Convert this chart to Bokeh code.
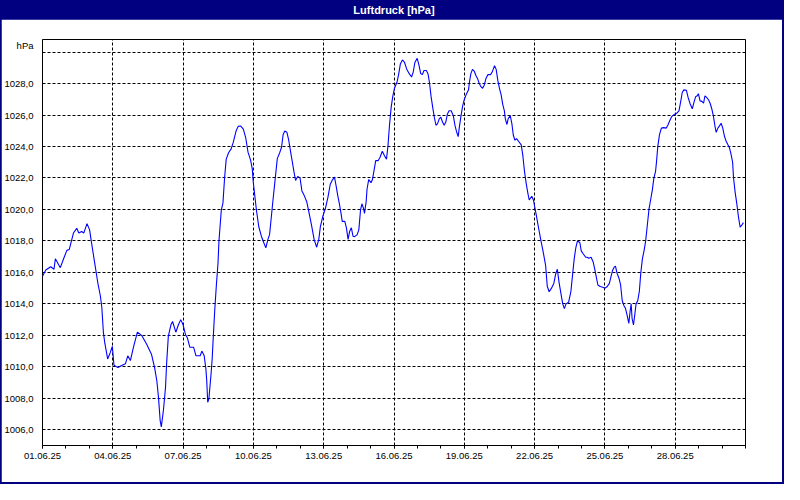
from datetime import datetime, timedelta

from bokeh.plotting import figure
from bokeh.models import Range1d, FixedTicker, DatetimeTickFormatter, Label
from bokeh.layouts import column
from bokeh.embed import file_html
from bokeh.resources import INLINE

# ---------------- data ----------------
TITLE = "Luftdruck [hPa]"
Y_UNIT = "hPa"
START = datetime(2025, 6, 1)
END = datetime(2025, 7, 1)

# time of each reading, in days since 01.06.25 00:00
day_offset = [
    0.00, 0.14, 0.35, 0.49, 0.55, 0.76, 0.90, 1.04, 1.14, 1.32, 1.46, 1.55, 1.67, 1.76, 1.90,
    2.01, 2.08, 2.22, 2.36, 2.47, 2.53, 2.60, 2.66, 2.78, 2.89, 2.98, 3.05, 3.22, 3.40, 3.54,
    3.64, 3.75, 3.89, 4.05, 4.23, 4.44, 4.65, 4.79, 4.88, 4.95, 5.02, 5.07, 5.16, 5.25, 5.30,
    5.37, 5.48, 5.55, 5.69, 5.80, 5.90, 6.00, 6.10, 6.18, 6.29, 6.45, 6.55, 6.73, 6.80, 6.90,
    6.97, 7.01, 7.05, 7.10, 7.19, 7.24, 7.29, 7.35, 7.42, 7.49, 7.53, 7.63, 7.70, 7.77, 7.84,
    7.94, 8.05, 8.14, 8.26, 8.35, 8.46, 8.57, 8.67, 8.77, 8.88, 8.95, 8.99, 9.05, 9.13, 9.23,
    9.34, 9.44, 9.53, 9.62, 9.69, 9.75, 9.82, 9.92, 10.02, 10.13, 10.20, 10.27, 10.34, 10.43,
    10.50, 10.59, 10.66, 10.73, 10.80, 10.89, 10.99, 11.07, 11.17, 11.28, 11.38, 11.49, 11.59,
    11.70, 11.79, 11.86, 11.96, 12.07, 12.18, 12.28, 12.38, 12.46, 12.53, 12.60, 12.67, 12.74,
    12.79, 12.90, 12.97, 13.04, 13.11, 13.18, 13.25, 13.32, 13.43, 13.50, 13.57, 13.63, 13.70,
    13.74, 13.81, 13.85, 13.92, 14.02, 14.08, 14.15, 14.22, 14.32, 14.40, 14.50, 14.60, 14.68,
    14.74, 14.81, 14.88, 14.95, 15.02, 15.13, 15.20, 15.27, 15.36, 15.45, 15.54, 15.65, 15.75,
    15.82, 15.89, 15.99, 16.07, 16.14, 16.21, 16.28, 16.38, 16.45, 16.51, 16.58, 16.65, 16.72,
    16.79, 16.86, 16.93, 17.00, 17.07, 17.14, 17.21, 17.28, 17.35, 17.44, 17.53, 17.60, 17.67,
    17.74, 17.79, 17.86, 17.93, 18.00, 18.08, 18.18, 18.22, 18.28, 18.35, 18.43, 18.50, 18.57,
    18.64, 18.71, 18.78, 18.85, 18.92, 19.01, 19.12, 19.19, 19.29, 19.36, 19.43, 19.50, 19.57,
    19.64, 19.71, 19.75, 19.82, 19.87, 19.96, 20.03, 20.09, 20.16, 20.23, 20.33, 20.43, 20.50,
    20.57, 20.64, 20.71, 20.77, 20.88, 20.95, 21.07, 21.16, 21.26, 21.37, 21.47, 21.54, 21.62,
    21.72, 21.82, 21.90, 21.97, 22.04, 22.13, 22.20, 22.27, 22.34, 22.45, 22.55, 22.62, 22.69,
    22.76, 22.83, 22.93, 22.99, 23.08, 23.18, 23.24, 23.31, 23.41, 23.50, 23.56, 23.63, 23.70,
    23.80, 23.91, 24.01, 24.10, 24.19, 24.26, 24.33, 24.40, 24.45, 24.52, 24.60, 24.67, 24.74,
    24.81, 24.88, 24.95, 25.02, 25.08, 25.12, 25.16, 25.22, 25.28, 25.33, 25.40, 25.47, 25.53,
    25.60, 25.67, 25.74, 25.81, 25.88, 25.95, 26.02, 26.09, 26.16, 26.20, 26.26, 26.33, 26.41,
    26.51, 26.62, 26.69, 26.78, 26.85, 26.95, 27.06, 27.16, 27.24, 27.30, 27.37, 27.48, 27.55,
    27.64, 27.73, 27.80, 27.87, 27.94, 27.99, 28.06, 28.14, 28.21, 28.27, 28.34, 28.42, 28.49,
    28.56, 28.63, 28.70, 28.75, 28.82, 28.89, 28.96, 29.03, 29.10, 29.17, 29.24, 29.31, 29.38,
    29.45, 29.49, 29.56, 29.63, 29.70, 29.77, 29.84, 29.91,
]

pressure_hpa = [
    1015.75, 1016.15, 1016.36, 1016.20, 1016.87, 1016.30, 1016.87, 1017.40, 1017.45, 1018.50, 1018.80, 1018.50, 1018.60, 1018.50, 1019.10,
    1018.70, 1018.00, 1016.67, 1015.34, 1014.50, 1013.80, 1012.16, 1011.50, 1010.50, 1010.90, 1011.30, 1010.10, 1009.95, 1010.10, 1010.20,
    1010.70, 1010.40, 1011.30, 1012.20, 1012.00, 1011.45, 1010.80, 1009.90, 1009.10, 1008.06, 1006.60, 1006.18, 1007.24, 1008.70, 1010.30,
    1011.95, 1012.67, 1012.88, 1012.20, 1012.67, 1013.00, 1012.67, 1012.06, 1011.85, 1011.24, 1011.24, 1010.70, 1010.70, 1011.00, 1010.70,
    1009.90, 1009.10, 1007.75, 1007.96, 1009.50, 1010.50, 1011.95, 1013.60, 1015.20, 1016.60, 1018.00, 1019.95, 1020.40, 1022.00, 1023.20,
    1023.60, 1023.85, 1024.26, 1024.98, 1025.28, 1025.30, 1025.10, 1024.57, 1023.64, 1023.13, 1022.60, 1021.80, 1021.00, 1019.95, 1018.90,
    1018.30, 1017.90, 1017.56, 1018.10, 1018.40, 1019.30, 1020.36, 1021.80, 1023.23, 1023.64, 1023.95, 1024.77, 1024.98, 1024.90,
    1024.46, 1023.64, 1023.03, 1022.40, 1021.84, 1022.10, 1022.00, 1021.18, 1020.88, 1020.47, 1019.75, 1018.93, 1018.10,
    1017.60, 1018.10, 1018.93, 1019.55, 1020.06, 1020.77, 1021.60, 1021.90, 1022.05, 1021.50, 1020.88, 1020.36, 1019.75,
    1019.24, 1019.24, 1018.83, 1018.10, 1018.62, 1018.83, 1018.30, 1018.27, 1018.40, 1018.72, 1019.95, 1020.36, 1020.06,
    1019.75, 1020.47, 1021.30, 1021.90, 1021.70, 1021.90, 1022.50, 1023.10, 1023.10, 1023.30, 1023.70, 1023.40, 1023.20,
    1024.00, 1025.40, 1026.50, 1027.20, 1027.70, 1028.10, 1028.60, 1029.24, 1029.50, 1029.34, 1028.93, 1028.63, 1028.42,
    1028.73, 1029.34, 1029.60, 1029.14, 1028.63, 1028.57, 1028.83, 1028.83, 1028.63, 1028.10, 1027.20, 1026.50, 1025.86,
    1025.35, 1025.45, 1025.76, 1025.86, 1025.55, 1025.35, 1025.55, 1026.07, 1026.27, 1026.27, 1025.96, 1025.35, 1024.94,
    1024.63, 1025.25, 1025.96, 1026.58, 1026.99, 1027.30, 1027.60, 1028.10, 1028.63, 1028.90, 1028.77, 1028.50, 1028.30,
    1028.00, 1027.80, 1027.70, 1027.90, 1028.30, 1028.57, 1028.57, 1028.73, 1029.14, 1028.90, 1028.20, 1027.70, 1027.30,
    1026.68, 1026.27, 1025.76, 1025.40, 1025.76, 1025.96, 1025.45, 1024.73, 1024.40, 1024.50, 1024.30, 1024.10, 1023.40,
    1022.40, 1021.66, 1021.05, 1020.60, 1020.84, 1020.60, 1019.65, 1018.90, 1018.10, 1017.27, 1016.45, 1015.12, 1014.77,
    1015.00, 1015.30, 1015.90, 1016.20, 1015.40, 1014.60, 1014.00, 1013.70, 1014.00, 1014.10, 1014.80, 1015.84, 1016.86,
    1017.58, 1018.00, 1017.90, 1017.37, 1017.17, 1016.96, 1016.96, 1016.90, 1016.96, 1016.66, 1016.25, 1015.73, 1015.20,
    1015.10, 1015.06, 1015.00, 1015.10, 1015.30, 1015.73, 1016.14, 1016.35, 1016.40, 1015.94, 1015.63, 1015.20, 1014.20,
    1013.90, 1013.70, 1013.27, 1012.76, 1013.58, 1014.00, 1013.07, 1012.66, 1013.37, 1014.00, 1014.20, 1014.80, 1015.94,
    1016.86, 1017.37, 1018.00, 1019.00, 1020.00, 1020.60, 1021.20, 1021.99, 1022.40, 1023.00, 1024.04, 1024.76, 1025.17,
    1025.20, 1025.17, 1025.37, 1025.68, 1025.90, 1026.03, 1026.10, 1026.26, 1026.90, 1027.43, 1027.60, 1027.57, 1027.12,
    1026.70, 1026.40, 1026.80, 1027.16, 1027.22, 1027.36, 1026.90, 1026.87, 1026.75, 1027.22, 1027.12, 1026.97, 1026.75,
    1026.40, 1025.93, 1025.27, 1024.90, 1025.17, 1025.31, 1025.48, 1025.17, 1024.66, 1024.35, 1024.14, 1023.94, 1023.53,
    1023.00, 1022.00, 1021.07, 1020.35, 1019.53, 1018.87, 1019.00, 1019.16,
]

x_tick_labels = ["01.06.25", "04.06.25", "07.06.25", "10.06.25", "13.06.25",
                 "16.06.25", "19.06.25", "22.06.25", "25.06.25", "28.06.25"]
y_ticks = [1006, 1008, 1010, 1012, 1014, 1016, 1018, 1020, 1022, 1024, 1026, 1028, 1030]
y_tick_labels = ["1006,0", "1008,0", "1010,0", "1012,0", "1014,0", "1016,0", "1018,0",
                 "1020,0", "1022,0", "1024,0", "1026,0", "1028,0", ""]
Y_MIN, Y_MAX = 1005.0, 1030.8
UNIT_POS = 1030.45   # where the unit text sits on the y axis (just under the top edge)

# ---------------- helpers ----------------
EPOCH = datetime(1970, 1, 1)


def to_ms(dt):
    return (dt - EPOCH).total_seconds() * 1000.0


times = [START + timedelta(days=d) for d in day_offset]
x_tick_dates = [datetime.strptime(s, "%d.%m.%y") for s in x_tick_labels]
x_major = [to_ms(d) for d in x_tick_dates]
n_days = (END - START).days
x_minor = [to_ms(START + timedelta(days=i)) for i in range(n_days + 1)]

NAVY = "#000080"
FONT = "Liberation Sans"

# ---------------- title bar ----------------
title_fig = figure(width=781, height=19, x_range=Range1d(0, 1), y_range=Range1d(0, 1),
                   toolbar_location=None, output_backend="svg",
                   x_axis_location=None, y_axis_location=None,
                   min_border=0, background_fill_color=NAVY, border_fill_color=NAVY,
                   outline_line_color=None)
title_fig.grid.visible = False
title_fig.add_layout(Label(x=0.5, y=0.5, text=TITLE, text_align="center",
                           text_baseline="middle", text_color="white",
                           text_font=FONT, text_font_style="bold",
                           text_font_size="11px"))

# ---------------- main chart ----------------
p = figure(width=781, height=463, x_axis_type="datetime",
           x_range=Range1d(START, END), y_range=Range1d(Y_MIN, Y_MAX),
           toolbar_location=None, output_backend="svg",
           min_border_left=38, min_border_right=37, min_border_top=20, min_border_bottom=37,
           background_fill_color="white", border_fill_color="white",
           outline_line_color="black", outline_line_width=1)

p.line(times, pressure_hpa, line_color="#0000ff", line_width=1.1)

# x axis
xax = p.xaxis[0]
xax.ticker = FixedTicker(ticks=x_major, minor_ticks=x_minor)
fmt = "%d.%m.%y"
xax.formatter = DatetimeTickFormatter(days=fmt, months=fmt, years=fmt, hours=fmt,
                                      hourmin=fmt, minutes=fmt, minsec=fmt,
                                      seconds=fmt, milliseconds=fmt, microseconds=fmt)
xax.major_label_overrides = {to_ms(d): s for d, s in zip(x_tick_dates, x_tick_labels)}
xax.axis_line_color = "black"
xax.major_tick_line_color = "black"
xax.minor_tick_line_color = "black"
xax.major_tick_in = 0
xax.major_tick_out = 3
xax.minor_tick_in = 0
xax.minor_tick_out = 3
xax.major_label_standoff = 4
xax.major_label_text_font = FONT
xax.major_label_text_font_size = "9.5px"
xax.major_label_text_color = "black"

# y axis (tick labels plus the unit text near the top)
yax = p.yaxis[0]
y_axis_ticks = y_ticks + [UNIT_POS]
y_axis_labels = y_tick_labels + [Y_UNIT]
yax.ticker = FixedTicker(ticks=y_axis_ticks)
yax.major_label_overrides = dict(zip(y_axis_ticks, y_axis_labels))
yax.axis_line_color = None
yax.major_tick_line_color = None
yax.minor_tick_line_color = None
yax.major_label_standoff = 3
yax.major_label_text_font = FONT
yax.major_label_text_font_size = "9.5px"
yax.major_label_text_color = "black"

# grid
p.ygrid[0].ticker = FixedTicker(ticks=y_ticks)
for g in (p.xgrid[0], p.ygrid[0]):
    g.grid_line_color = "black"
    g.grid_line_dash = "3 2"
    g.grid_line_width = 1

layout = column(title_fig, p,
                styles={"background-color": NAVY, "padding": "0px 2px 2px 1px"})

open("out.html", "w").write(file_html(layout, INLINE))
